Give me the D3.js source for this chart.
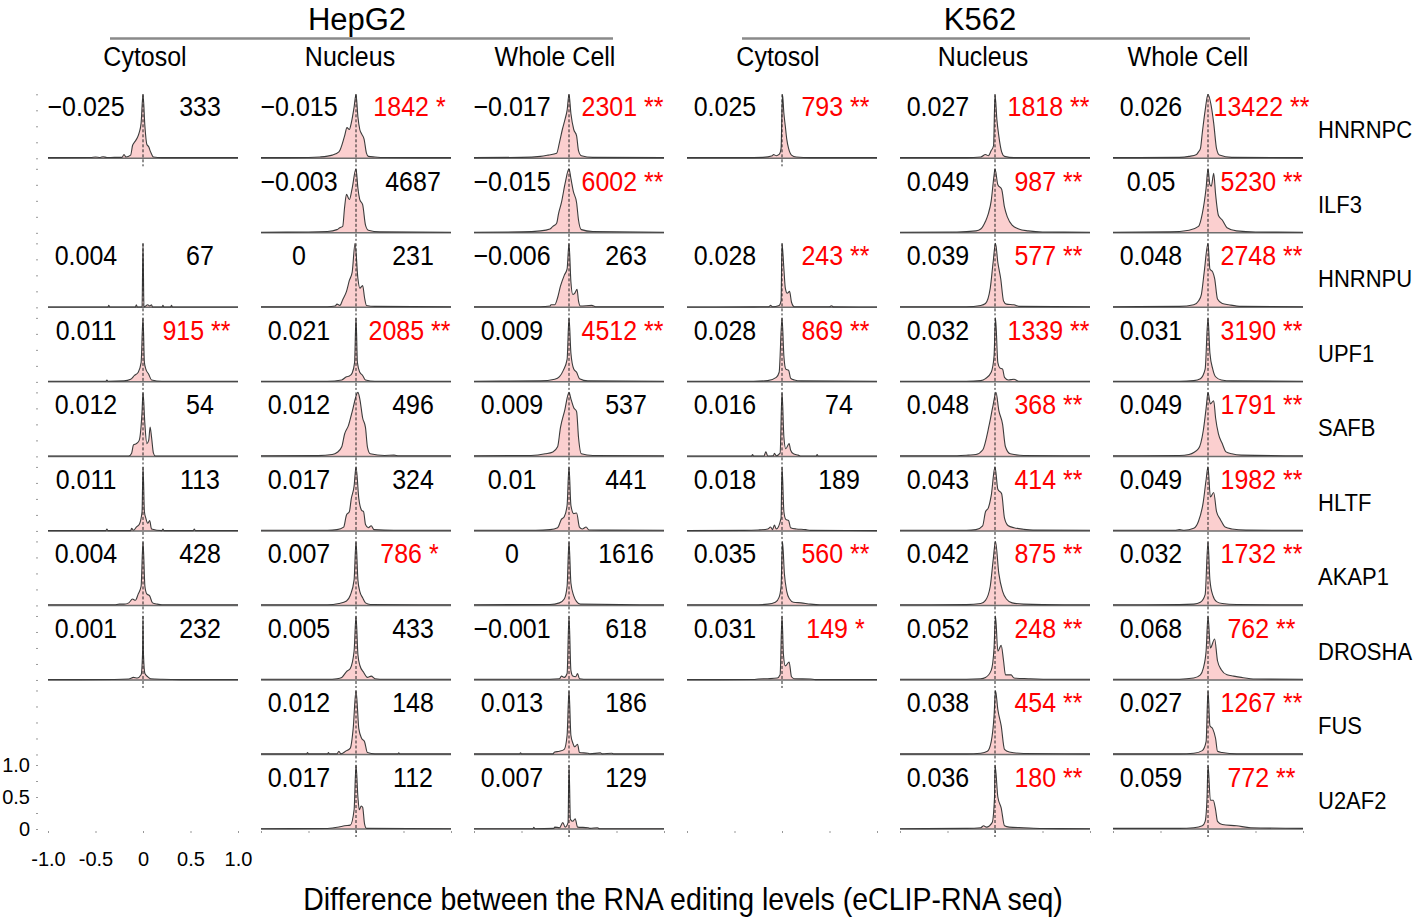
<!DOCTYPE html>
<html><head><meta charset="utf-8">
<script src="https://cdn.jsdelivr.net/npm/d3@7"></script>
<style>body{margin:0;background:#fff} text{font-family:"Liberation Sans",Arial,sans-serif}</style>
</head><body><svg id="c" width="1416" height="918"></svg>
<script>
// ---------------- DATA ----------------
const cellLines = ["HepG2", "K562"];
const fractions = ["Cytosol", "Nucleus", "Whole Cell", "Cytosol", "Nucleus", "Whole Cell"];
const rbps = ["HNRNPC", "ILF3", "HNRNPU", "UPF1", "SAFB", "HLTF", "AKAP1", "DROSHA", "FUS", "U2AF2"];
const xTicks = [-1, -0.5, 0, 0.5, 1];
const xTickLabels = ["-1.0", "-0.5", "0", "0.5", "1.0"];
const yTicks = [0, 0.25, 0.5, 0.75, 1];
const yTickLabels = {0: "0", 0.5: "0.5", 1: "1.0"};

// mean difference per panel [column][row]
const meanDiff = [
  [-0.025, null, 0.004, 0.011, 0.012, 0.011, 0.004, 0.001, null, null],
  [-0.015, -0.003, 0, 0.021, 0.012, 0.017, 0.007, 0.005, 0.012, 0.017],
  [-0.017, -0.015, -0.006, 0.009, 0.009, 0.01, 0, -0.001, 0.013, 0.007],
  [0.025, null, 0.028, 0.028, 0.016, 0.018, 0.035, 0.031, null, null],
  [0.027, 0.049, 0.039, 0.032, 0.048, 0.043, 0.042, 0.052, 0.038, 0.036],
  [0.026, 0.05, 0.048, 0.031, 0.049, 0.049, 0.032, 0.068, 0.027, 0.059]
];
// number of sites per panel
const siteCounts = [
  [333, null, 67, 915, 54, 113, 428, 232, null, null],
  [1842, 4687, 231, 2085, 496, 324, 786, 433, 148, 112],
  [2301, 6002, 263, 4512, 537, 441, 1616, 618, 186, 129],
  [793, null, 243, 869, 74, 189, 560, 149, null, null],
  [1818, 987, 577, 1339, 368, 414, 875, 248, 454, 180],
  [13422, 5230, 2748, 3190, 1791, 1982, 1732, 762, 1267, 772]
];
// significance stars (0 none, 1 *, 2 **)
const signif = [
  [0, null, 0, 2, 0, 0, 0, 0, null, null],
  [1, 0, 0, 2, 0, 0, 1, 0, 0, 0],
  [2, 2, 0, 2, 0, 0, 0, 0, 0, 0],
  [2, null, 2, 2, 0, 0, 2, 1, null, null],
  [2, 2, 2, 2, 2, 2, 2, 2, 2, 2],
  [2, 2, 2, 2, 2, 2, 2, 2, 2, 2]
];

// density curves (x = difference, y = scaled density)
const densHepG2Cytosol = [
  [[-1,0.01],[-0.55,0.012],[-0.5,0.02],[-0.45,0.012],[-0.42,0.025],[-0.38,0.012],[-0.3,0.015],[-0.22,0.015],[-0.2,0.06],[-0.18,0.02],[-0.13,0.05],[-0.11,0.2],[-0.09,0.25],[-0.06,0.32],[-0.04,0.4],[-0.02,0.55],[0,1],[0.02,0.5],[0.04,0.22],[0.06,0.18],[0.08,0.1],[0.11,0.02],[0.2,0.01],[1,0.01]],
  null,
  [[-1,0.005],[-0.37,0.005],[-0.36,0.03],[-0.35,0.005],[-0.08,0.005],[-0.07,0.04],[-0.06,0.005],[-0.01,0.005],[0,1],[0.01,0.005],[0.05,0.04],[0.07,0.02],[0.09,0.04],[0.1,0.005],[0.2,0.005],[0.21,0.03],[0.22,0.005],[0.29,0.005],[0.3,0.03],[0.31,0.005],[1,0.005]],
  [[-1,0.01],[-0.39,0.01],[-0.38,0.03],[-0.37,0.01],[-0.2,0.015],[-0.13,0.04],[-0.09,0.1],[-0.05,0.15],[-0.02,0.3],[0,1],[0.015,0.3],[0.03,0.2],[0.06,0.12],[0.09,0.03],[0.2,0.01],[1,0.01]],
  [[-1,0.005],[-0.15,0.005],[-0.12,0.05],[-0.1,0.18],[-0.07,0.2],[-0.04,0.25],[-0.01,0.7],[0,1],[0.02,0.5],[0.04,0.2],[0.06,0.25],[0.075,0.46],[0.09,0.3],[0.11,0.05],[0.13,0.005],[1,0.005]],
  [[-1,0.005],[-0.39,0.005],[-0.38,0.03],[-0.37,0.005],[-0.13,0.005],[-0.12,0.04],[-0.1,0.01],[-0.07,0.06],[-0.04,0.1],[-0.01,0.3],[0,1],[0.015,0.3],[0.03,0.2],[0.05,0.12],[0.07,0.16],[0.09,0.03],[0.2,0.005],[0.21,0.03],[0.22,0.005],[0.53,0.005],[0.54,0.03],[0.55,0.005],[1,0.005]],
  [[-1,0.01],[-0.3,0.01],[-0.25,0.02],[-0.2,0.02],[-0.15,0.04],[-0.11,0.1],[-0.08,0.08],[-0.05,0.18],[-0.02,0.3],[0,1],[0.02,0.3],[0.04,0.18],[0.07,0.15],[0.1,0.04],[0.15,0.02],[0.2,0.01],[1,0.01]],
  [[-1,0.005],[-0.3,0.008],[-0.15,0.015],[-0.1,0.04],[-0.06,0.03],[-0.02,0.08],[-0.005,0.4],[0,1],[0.005,0.4],[0.02,0.1],[0.05,0.05],[0.08,0.02],[0.2,0.01],[0.4,0.005],[1,0.005]],
  null,
  null
];
const densHepG2Nucleus = [
  [[-1,0.01],[-0.5,0.012],[-0.38,0.02],[-0.25,0.05],[-0.18,0.1],[-0.12,0.35],[-0.095,0.48],[-0.07,0.45],[-0.05,0.55],[-0.02,0.8],[0,1],[0.02,0.65],[0.04,0.45],[0.06,0.38],[0.085,0.3],[0.11,0.08],[0.13,0.03],[0.2,0.02],[0.3,0.012],[1,0.01]],
  [[-1,0.01],[-0.5,0.012],[-0.3,0.02],[-0.2,0.05],[-0.17,0.08],[-0.14,0.1],[-0.12,0.4],[-0.1,0.6],[-0.07,0.52],[-0.04,0.7],[0,1],[0.02,0.7],[0.04,0.52],[0.07,0.44],[0.1,0.12],[0.13,0.04],[0.25,0.015],[1,0.01]],
  [[-1,0.01],[-0.3,0.01],[-0.22,0.02],[-0.2,0.05],[-0.17,0.03],[-0.14,0.12],[-0.1,0.25],[-0.07,0.42],[-0.04,0.55],[-0.01,1],[0.02,0.45],[0.04,0.3],[0.07,0.34],[0.09,0.15],[0.11,0.03],[0.2,0.015],[1,0.01]],
  [[-1,0.01],[-0.3,0.01],[-0.15,0.03],[-0.1,0.08],[-0.07,0.09],[-0.04,0.14],[-0.015,0.3],[0,1],[0.015,0.3],[0.04,0.15],[0.07,0.1],[0.1,0.03],[0.2,0.01],[1,0.01]],
  [[-1,0.01],[-0.4,0.012],[-0.25,0.03],[-0.2,0.06],[-0.15,0.15],[-0.12,0.35],[-0.08,0.48],[-0.04,0.7],[0.02,1],[0.04,0.9],[0.07,0.6],[0.1,0.45],[0.12,0.15],[0.15,0.04],[0.3,0.015],[0.4,0.02],[0.45,0.01],[1,0.01]],
  [[-1,0.01],[-0.3,0.01],[-0.2,0.02],[-0.13,0.06],[-0.1,0.25],[-0.07,0.3],[-0.05,0.5],[-0.02,0.7],[0,1],[0.03,0.5],[0.06,0.32],[0.08,0.3],[0.1,0.1],[0.13,0.05],[0.16,0.08],[0.19,0.02],[0.4,0.01],[1,0.01]],
  [[-1,0.01],[-0.3,0.01],[-0.18,0.03],[-0.1,0.07],[-0.06,0.16],[-0.02,0.4],[0,1],[0.02,0.4],[0.04,0.22],[0.07,0.12],[0.1,0.04],[0.15,0.015],[1,0.01]],
  [[-1,0.01],[-0.3,0.01],[-0.2,0.02],[-0.15,0.04],[-0.1,0.13],[-0.06,0.18],[-0.02,0.45],[0,1],[0.02,0.4],[0.04,0.23],[0.08,0.12],[0.12,0.04],[0.16,0.06],[0.2,0.02],[0.3,0.01],[1,0.01]],
  [[-1,0.01],[-0.52,0.01],[-0.51,0.03],[-0.5,0.01],[-0.3,0.01],[-0.29,0.03],[-0.28,0.01],[-0.2,0.01],[-0.18,0.05],[-0.16,0.01],[-0.11,0.05],[-0.06,0.1],[-0.03,0.4],[0,1],[0.03,0.4],[0.06,0.25],[0.09,0.2],[0.12,0.03],[0.2,0.01],[0.44,0.01],[0.45,0.025],[0.46,0.01],[1,0.01]],
  [[-1,0.005],[-0.3,0.008],[-0.18,0.03],[-0.12,0.05],[-0.06,0.06],[-0.02,0.3],[0,1],[0.02,0.5],[0.035,0.3],[0.055,0.36],[0.07,0.34],[0.09,0.08],[0.11,0.01],[1,0.005]]
];
const densHepG2Whole = [
  [[-1,0.01],[-0.5,0.015],[-0.3,0.03],[-0.22,0.05],[-0.13,0.08],[-0.1,0.25],[-0.07,0.45],[-0.04,0.62],[-0.02,0.75],[0,1],[0.02,0.7],[0.05,0.45],[0.08,0.35],[0.1,0.12],[0.13,0.04],[0.25,0.015],[1,0.01]],
  [[-1,0.01],[-0.5,0.015],[-0.3,0.03],[-0.2,0.06],[-0.17,0.1],[-0.13,0.15],[-0.11,0.3],[-0.08,0.47],[-0.04,0.78],[0,1],[0.02,0.85],[0.045,0.65],[0.08,0.47],[0.1,0.2],[0.13,0.05],[0.25,0.02],[1,0.01]],
  [[-1,0.01],[-0.3,0.01],[-0.2,0.02],[-0.19,0.04],[-0.15,0.04],[-0.12,0.15],[-0.09,0.33],[-0.05,0.5],[-0.02,0.6],[0,1],[0.02,0.4],[0.04,0.2],[0.06,0.22],[0.085,0.28],[0.1,0.1],[0.12,0.02],[0.24,0.03],[0.28,0.01],[1,0.01]],
  [[-1,0.01],[-0.3,0.015],[-0.15,0.04],[-0.1,0.08],[-0.06,0.18],[-0.02,0.35],[0,1],[0.02,0.45],[0.05,0.2],[0.08,0.15],[0.11,0.05],[0.2,0.015],[1,0.01]],
  [[-1,0.01],[-0.4,0.015],[-0.25,0.04],[-0.17,0.07],[-0.12,0.15],[-0.09,0.45],[-0.045,0.72],[0,1],[0.02,0.9],[0.05,0.76],[0.08,0.7],[0.1,0.3],[0.13,0.04],[0.25,0.015],[1,0.01]],
  [[-1,0.01],[-0.35,0.01],[-0.2,0.02],[-0.12,0.05],[-0.08,0.18],[-0.05,0.22],[-0.02,0.4],[0,1],[0.02,0.4],[0.05,0.27],[0.08,0.28],[0.11,0.06],[0.14,0.03],[0.18,0.06],[0.21,0.015],[0.4,0.012],[1,0.01]],
  [[-1,0.01],[-0.2,0.015],[-0.1,0.04],[-0.05,0.1],[-0.02,0.3],[0,1],[0.02,0.35],[0.05,0.15],[0.08,0.06],[0.12,0.02],[1,0.01]],
  [[-1,0.01],[-0.3,0.01],[-0.1,0.02],[-0.08,0.06],[-0.05,0.04],[-0.02,0.1],[0,1],[0.02,0.15],[0.04,0.06],[0.07,0.05],[0.09,0.1],[0.11,0.02],[0.2,0.01],[1,0.01]],
  [[-1,0.01],[-0.52,0.01],[-0.51,0.025],[-0.5,0.01],[-0.17,0.01],[-0.15,0.04],[-0.1,0.05],[-0.05,0.08],[-0.02,0.3],[0,1],[0.02,0.3],[0.04,0.18],[0.06,0.12],[0.09,0.16],[0.11,0.03],[0.2,0.02],[0.22,0.01],[0.33,0.025],[0.35,0.01],[0.45,0.02],[0.47,0.01],[1,0.01]],
  [[-1,0.005],[-0.38,0.005],[-0.37,0.025],[-0.36,0.005],[-0.16,0.01],[-0.15,0.03],[-0.1,0.02],[-0.065,0.1],[-0.04,0.03],[-0.01,0.1],[0,1],[0.015,0.15],[0.04,0.12],[0.065,0.16],[0.09,0.03],[0.2,0.02],[0.22,0.01],[0.3,0.02],[0.32,0.005],[1,0.005]]
];
const densK562Cytosol = [
  [[-1,0.01],[-0.4,0.01],[-0.2,0.015],[-0.1,0.04],[-0.09,0.06],[-0.06,0.04],[-0.03,0.06],[-0.01,0.15],[0.005,1],[0.02,0.7],[0.035,0.5],[0.05,0.3],[0.07,0.15],[0.1,0.05],[0.15,0.02],[0.3,0.01],[1,0.01]],
  null,
  [[-1,0.005],[-0.3,0.008],[-0.14,0.01],[-0.12,0.03],[-0.1,0.01],[-0.03,0.03],[-0.01,0.1],[0,1],[0.02,0.6],[0.035,0.3],[0.055,0.22],[0.08,0.25],[0.1,0.08],[0.13,0.01],[0.5,0.01],[0.52,0.025],[0.54,0.008],[1,0.005]],
  [[-1,0.01],[-0.3,0.01],[-0.15,0.02],[-0.06,0.07],[-0.03,0.15],[0,1],[0.02,0.4],[0.04,0.2],[0.07,0.18],[0.09,0.06],[0.13,0.03],[0.2,0.015],[1,0.01]],
  [[-1,0.005],[-0.32,0.005],[-0.31,0.03],[-0.3,0.005],[-0.19,0.005],[-0.17,0.07],[-0.15,0.005],[-0.09,0.01],[-0.08,0.05],[-0.06,0.01],[-0.02,0.05],[0,1],[0.02,0.3],[0.04,0.12],[0.075,0.2],[0.09,0.1],[0.12,0.04],[0.17,0.02],[0.2,0.005],[0.36,0.005],[0.37,0.03],[0.38,0.005],[1,0.005]],
  [[-1,0.005],[-0.4,0.008],[-0.25,0.015],[-0.15,0.03],[-0.12,0.06],[-0.1,0.02],[-0.08,0.09],[-0.06,0.03],[-0.01,0.2],[0,1],[0.02,0.3],[0.04,0.18],[0.07,0.16],[0.09,0.05],[0.15,0.03],[0.25,0.02],[0.3,0.008],[1,0.005]],
  [[-1,0.01],[-0.3,0.01],[-0.15,0.02],[-0.07,0.05],[-0.03,0.13],[-0.01,0.3],[0.005,1],[0.025,0.5],[0.05,0.22],[0.08,0.1],[0.12,0.05],[0.2,0.04],[0.3,0.02],[0.4,0.01],[1,0.01]],
  [[-1,0.005],[-0.3,0.008],[-0.25,0.015],[-0.15,0.02],[-0.05,0.03],[-0.02,0.08],[0,1],[0.015,0.4],[0.035,0.22],[0.075,0.28],[0.1,0.05],[0.13,0.02],[0.3,0.015],[0.35,0.005],[1,0.005]],
  null,
  null
];
const densK562Nucleus = [
  [[-1,0.01],[-0.3,0.01],[-0.15,0.02],[-0.1,0.06],[-0.07,0.04],[-0.04,0.12],[-0.015,0.2],[0,1],[0.02,0.6],[0.04,0.35],[0.07,0.1],[0.1,0.03],[0.2,0.01],[1,0.01]],
  [[-1,0.01],[-0.4,0.012],[-0.2,0.03],[-0.15,0.06],[-0.1,0.18],[-0.07,0.3],[-0.04,0.5],[-0.01,0.9],[0,1],[0.03,0.75],[0.07,0.68],[0.1,0.4],[0.13,0.25],[0.18,0.12],[0.25,0.06],[0.35,0.03],[0.5,0.012],[1,0.01]],
  [[-1,0.01],[-0.3,0.01],[-0.15,0.03],[-0.1,0.06],[-0.05,0.3],[-0.02,0.7],[0.005,1],[0.03,0.7],[0.06,0.45],[0.09,0.1],[0.12,0.05],[0.2,0.04],[0.25,0.015],[1,0.01]],
  [[-1,0.01],[-0.3,0.01],[-0.15,0.02],[-0.1,0.05],[-0.04,0.15],[-0.01,0.4],[0.005,1],[0.03,0.3],[0.05,0.22],[0.08,0.2],[0.1,0.07],[0.14,0.03],[0.2,0.04],[0.25,0.01],[1,0.01]],
  [[-1,0.01],[-0.4,0.01],[-0.28,0.02],[-0.2,0.03],[-0.13,0.1],[-0.06,0.5],[-0.02,0.8],[0.01,1],[0.04,0.72],[0.08,0.5],[0.11,0.15],[0.16,0.04],[0.3,0.015],[1,0.01]],
  [[-1,0.01],[-0.3,0.01],[-0.2,0.02],[-0.13,0.08],[-0.1,0.3],[-0.07,0.36],[-0.04,0.55],[0,1],[0.03,0.65],[0.07,0.58],[0.1,0.2],[0.14,0.08],[0.2,0.05],[0.3,0.025],[0.4,0.012],[1,0.01]],
  [[-1,0.01],[-0.3,0.012],[-0.15,0.03],[-0.1,0.08],[-0.05,0.3],[-0.02,0.7],[0.005,1],[0.04,0.5],[0.08,0.22],[0.12,0.1],[0.18,0.04],[0.3,0.02],[0.5,0.012],[1,0.01]],
  [[-1,0.01],[-0.3,0.012],[-0.15,0.02],[-0.1,0.04],[-0.04,0.15],[-0.01,0.5],[0.005,1],[0.03,0.45],[0.065,0.54],[0.09,0.3],[0.11,0.08],[0.17,0.08],[0.2,0.03],[0.35,0.02],[0.6,0.01],[1,0.01]],
  [[-1,0.01],[-0.3,0.01],[-0.15,0.02],[-0.08,0.05],[-0.04,0.2],[-0.01,0.6],[0.005,1],[0.03,0.7],[0.065,0.45],[0.1,0.08],[0.15,0.04],[0.3,0.015],[1,0.01]],
  [[-1,0.005],[-0.3,0.01],[-0.15,0.02],[-0.12,0.05],[-0.09,0.03],[-0.03,0.1],[-0.005,0.5],[0,1],[0.03,0.5],[0.065,0.33],[0.1,0.05],[0.15,0.03],[0.3,0.02],[0.5,0.008],[1,0.005]]
];
const densK562Whole = [
  [[-1,0.01],[-0.3,0.015],[-0.2,0.03],[-0.12,0.06],[-0.1,0.1],[-0.08,0.15],[-0.06,0.4],[-0.03,0.75],[0,1],[0.03,0.85],[0.06,0.55],[0.09,0.15],[0.12,0.05],[0.25,0.015],[1,0.01]],
  [[-1,0.01],[-0.4,0.015],[-0.2,0.04],[-0.1,0.1],[-0.06,0.3],[-0.02,0.7],[0,1],[0.02,0.75],[0.035,0.73],[0.06,0.93],[0.08,0.6],[0.11,0.27],[0.15,0.2],[0.2,0.08],[0.3,0.03],[0.5,0.012],[1,0.01]],
  [[-1,0.01],[-0.3,0.015],[-0.15,0.04],[-0.1,0.1],[-0.07,0.2],[-0.04,0.55],[0,1],[0.02,0.6],[0.05,0.55],[0.07,0.45],[0.1,0.13],[0.15,0.06],[0.22,0.04],[0.35,0.015],[1,0.01]],
  [[-1,0.01],[-0.3,0.01],[-0.15,0.02],[-0.08,0.05],[-0.03,0.2],[0,1],[0.02,0.45],[0.05,0.2],[0.08,0.08],[0.14,0.03],[0.25,0.015],[1,0.01]],
  [[-1,0.01],[-0.3,0.015],[-0.2,0.03],[-0.1,0.12],[-0.05,0.4],[-0.02,0.75],[0,1],[0.025,0.82],[0.06,0.87],[0.08,0.6],[0.11,0.35],[0.15,0.2],[0.19,0.07],[0.25,0.04],[0.35,0.02],[1,0.01]],
  [[-1,0.01],[-0.35,0.01],[-0.3,0.02],[-0.25,0.01],[-0.15,0.04],[-0.1,0.15],[-0.05,0.45],[-0.02,0.8],[0,1],[0.025,0.53],[0.06,0.6],[0.09,0.3],[0.13,0.18],[0.18,0.06],[0.25,0.03],[0.4,0.012],[1,0.01]],
  [[-1,0.01],[-0.3,0.012],[-0.15,0.02],[-0.08,0.05],[-0.03,0.17],[0,1],[0.02,0.4],[0.05,0.16],[0.09,0.06],[0.15,0.03],[0.3,0.015],[1,0.01]],
  [[-1,0.01],[-0.3,0.012],[-0.15,0.03],[-0.08,0.08],[-0.05,0.18],[-0.02,0.45],[0,1],[0.025,0.5],[0.07,0.64],[0.1,0.3],[0.14,0.16],[0.2,0.08],[0.27,0.06],[0.35,0.04],[0.5,0.015],[1,0.01]],
  [[-1,0.01],[-0.3,0.01],[-0.15,0.02],[-0.06,0.06],[-0.02,0.2],[0,1],[0.02,0.45],[0.05,0.4],[0.08,0.25],[0.1,0.05],[0.15,0.03],[0.3,0.01],[1,0.01]],
  [[-1,0.01],[-0.3,0.01],[-0.15,0.02],[-0.06,0.05],[-0.03,0.12],[-0.01,0.5],[0,1],[0.025,0.45],[0.055,0.45],[0.08,0.3],[0.1,0.12],[0.15,0.07],[0.3,0.05],[0.45,0.02],[1,0.01]]
];
const densities = [densHepG2Cytosol, densHepG2Nucleus, densHepG2Whole, densK562Cytosol, densK562Nucleus, densK562Whole];

// ---------------- LAYOUT ----------------
const svg = d3.select("#c");
const FONT = '"Liberation Sans", Arial, sans-serif';
const SY = 1.12; // vertical stretch of the lettering in the original
const panelW = 190, colStep = 213, firstLeft = 48, panelH = 64;
const rowBase = d3.scaleLinear().domain([0, rbps.length - 1]).range([158.3, 829]);
const colLeft = c => firstLeft + c * colStep;
const fillCol = "#fbcfcf", lineCol = "#3c3c3c", baseCol = "#6e6e6e";

function label(parent, x, y, str, size, anchor, fill, sy) {
  return parent.append("text")
    .attr("transform", `translate(${x},${y}) scale(1,${sy || SY})`)
    .attr("text-anchor", anchor || "start")
    .attr("font-size", size).attr("font-family", FONT)
    .attr("fill", fill || "#000").text(str);
}

// headers
const groupTitle = [{x: 357, x1: 110, x2: 613}, {x: 980, x1: 742, x2: 1250}];
cellLines.forEach((t, i) => {
  label(svg, groupTitle[i].x, 30, t, 31, "middle", "#000", 1);
  svg.append("line").attr("x1", groupTitle[i].x1).attr("x2", groupTitle[i].x2)
    .attr("y1", 38.5).attr("y2", 38.5).attr("stroke", "#8a8a8a").attr("stroke-width", 2.5);
});
const subX = [145, 350, 555, 778, 983, 1188];
fractions.forEach((t, c) => label(svg, subX[c], 66, t, 25, "middle"));

// row labels
rbps.forEach((t, r) => label(svg, 1318, rowBase(r) - 20, t, 22));

const fmtMean = v => String(v).replace("-", "\u2212");

densities.forEach((colData, c) => {
  const x = d3.scaleLinear().domain([-1, 1]).range([colLeft(c), colLeft(c) + panelW]);
  // x-axis tick dots at bottom of each column
  const xa = d3.axisBottom(x).tickValues(xTicks).tickSize(2).tickPadding(19)
    .tickFormat((d, i) => c === 0 ? xTickLabels[i] : "");
  const gx = svg.append("g").attr("transform", `translate(0,${rowBase(rbps.length - 1) + 2})`).call(xa);
  gx.select(".domain").remove();
  gx.selectAll(".tick line").attr("stroke", "#999");
  gx.selectAll(".tick text").attr("font-size", 20).attr("font-family", FONT).attr("fill", "#000");

  colData.forEach((pts, r) => {
    if (!pts) return;
    const base = rowBase(r);
    const y = d3.scaleLinear().domain([0, 1]).range([base, base - panelH]);
    const g = svg.append("g");
    const area = d3.area().x(d => x(d[0])).y0(base).y1(d => y(d[1])).curve(d3.curveMonotoneX);
    const line = d3.line().x(d => x(d[0])).y(d => y(d[1])).curve(d3.curveMonotoneX);
    g.append("path").attr("d", area(pts)).attr("fill", fillCol);
    g.append("line").attr("x1", x(-1)).attr("x2", x(1)).attr("y1", base).attr("y2", base)
      .attr("stroke", baseCol).attr("stroke-width", 1.5);
    g.append("path").attr("d", line(pts)).attr("fill", "none").attr("stroke", lineCol).attr("stroke-width", 1.1);
    g.append("line").attr("x1", x(0)).attr("x2", x(0)).attr("y1", y(1)).attr("y2", base + 8)
      .attr("stroke", "#222").attr("stroke-width", 1).attr("stroke-dasharray", "3,2");

    // labels
    label(g, colLeft(c) + 38, base - 42, fmtMean(meanDiff[c][r]), 25, "middle");
    const s = signif[c][r];
    const txt = siteCounts[c][r] + (s === 2 ? " **" : s === 1 ? " *" : "");
    label(g, colLeft(c) + (s ? 148.5 : 152), base - 42, txt, 25, "middle", s ? "#ff0000" : "#000");
  });
});

// y-axis tick dots for every row on the left
rbps.forEach((t, r) => {
  const base = rowBase(r);
  const y = d3.scaleLinear().domain([0, 1]).range([base, base - panelH]);
  const last = r === rbps.length - 1;
  const ya = d3.axisLeft(y).tickValues(yTicks).tickSize(2).tickPadding(6)
    .tickFormat(d => last && yTickLabels[d] !== undefined ? yTickLabels[d] : "");
  const gy = svg.append("g").attr("transform", "translate(38,0)").call(ya);
  gy.select(".domain").remove();
  gy.selectAll(".tick line").attr("stroke", "#999");
  gy.selectAll(".tick text").attr("font-size", 20).attr("font-family", FONT).attr("fill", "#000");
});

// bottom title
label(svg, 683, 910, "Difference between the RNA editing levels (eCLIP-RNA seq)", 28.5, "middle");
</script></body></html>
